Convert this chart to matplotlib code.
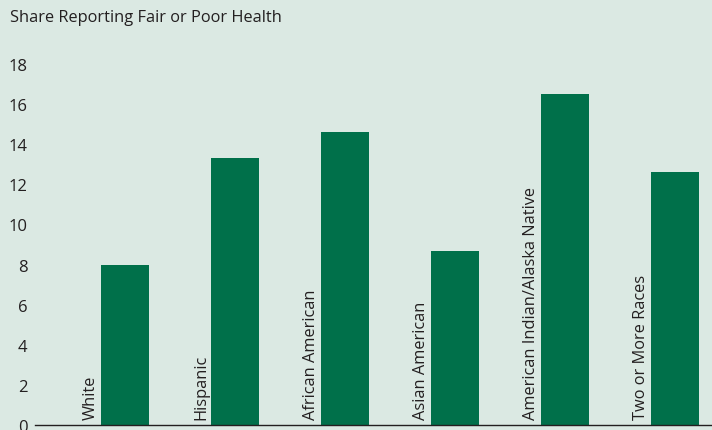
import matplotlib
matplotlib.use("Agg")
import matplotlib.pyplot as plt
import numpy as np

categories = ["White", "Hispanic", "African American", "Asian American",
              "American Indian/Alaska Native", "Two or More Races"]
share_fair_poor = [8.0, 13.3, 14.6, 8.7, 16.5, 12.6]
y_ticks = [0, 2, 4, 6, 8, 10, 12, 14, 16, 18]

bg = "#dbe9e3"
bar_color = "#00704a"
text_color = "#231f20"
plt.rcParams["font.family"] = ["Open Sans", "DejaVu Sans"]

fig = plt.figure(figsize=(7.12, 4.31), dpi=100, facecolor=bg)
ax = fig.add_axes([35 / 712, 5 / 431, 677 / 712, 361 / 431])
ax.set_facecolor(bg)

x = np.arange(len(categories))
ax.bar(x, share_fair_poor, width=0.436, color=bar_color, zorder=2)

# category names sit upright just left of each bar
for xi, name in zip(x, categories):
    ax.text(xi - 0.31, 0.3, name, rotation=90, ha="center", va="bottom",
            fontsize=11.8, color=text_color)

ax.set_xlim(-0.818, 5.336)
ax.set_ylim(0, 18)
ax.set_xticks([])
ax.set_yticks(y_ticks)
ax.set_yticklabels([str(t) for t in y_ticks])
ax.tick_params(axis="y", length=0, pad=5.5, labelsize=12, labelcolor=text_color)
for side in ["top", "right", "left"]:
    ax.spines[side].set_visible(False)
ax.spines["bottom"].set_color(text_color)
ax.spines["bottom"].set_linewidth(1.0)

fig.text(10 / 712, 1 - 18 / 431, "Share Reporting Fair or Poor Health",
         ha="left", va="center", fontsize=11.8, color=text_color)

fig.savefig("out.png", dpi=100, facecolor=bg)
